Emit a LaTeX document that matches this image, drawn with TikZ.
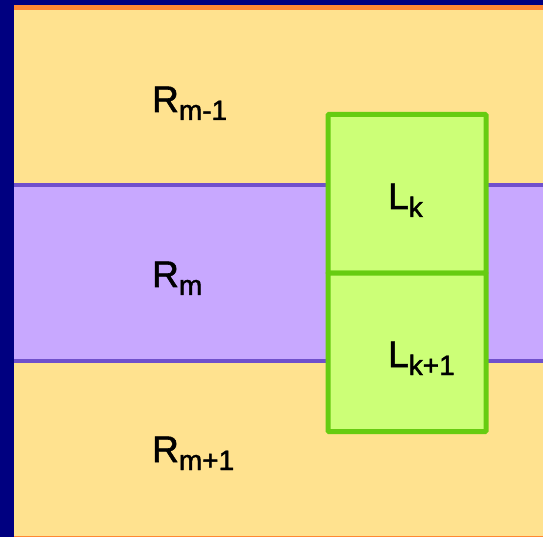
\documentclass[tikz,border=0pt]{standalone}
\usepackage{fontspec}
\setmainfont{Liberation Sans}
\newfontfamily\lblfont{Liberation Sans}[FakeBold=1.5]
\usetikzlibrary{positioning}
\definecolor{frame}{HTML}{000080}
\definecolor{edge}{HTML}{FF8833}
\definecolor{sand}{HTML}{FFE28F}
\definecolor{lilac}{HTML}{C8A8FF}
\definecolor{lilacline}{HTML}{7050CC}
\definecolor{lime}{HTML}{CCFF77}
\definecolor{limeline}{HTML}{66CC11}
\newcommand{\lbl}[2]{#1\raisebox{-8pt}{\fontsize{28}{28}\selectfont #2}}

\begin{document}
\begin{tikzpicture}[x=1pt, y=-1pt,
    cell/.style={fill=lime, draw=limeline, line width=5pt, rounded corners=1pt,
        minimum width=158pt, minimum height=158.5pt, inner sep=0pt},
    tag/.style={anchor=base west, inner sep=0pt},
    every node/.style={font=\lblfont\fontsize{37}{37}\selectfont}]
    \useasboundingbox (0,0) rectangle (543,537);
    % background and frame
    \fill[frame] (0,0) rectangle (543,537);
    \fill[edge] (14,5) rectangle (543,537);
    \fill[sand] (14,10.5) rectangle (543,535.5);
    % middle band
    \fill[lilac] (14,183) rectangle (543,362);
    \draw[lilacline, line width=4.5pt] (14,185) -- (543,185);
    \draw[lilacline, line width=4.5pt] (14,361) -- (543,361);
    % row labels
    \node[tag] (rtop) at (152,112) {\lbl{R}{m-1}};
    \node[tag] (rmid) at (152,287) {\lbl{R}{m}};
    \node[tag] (rbot) at (152,462) {\lbl{R}{m+1}};
    % column cells
    \node[cell] (lk) at (407,193.75) {};
    \node[cell, below=-5pt of lk] (lknext) {};
    \node[tag] (lktxt) at (388,209) {\lbl{L}{k}};
    \node[tag] (lknexttxt) at (388,367) {\lbl{L}{k+1}};
\end{tikzpicture}
\end{document}
